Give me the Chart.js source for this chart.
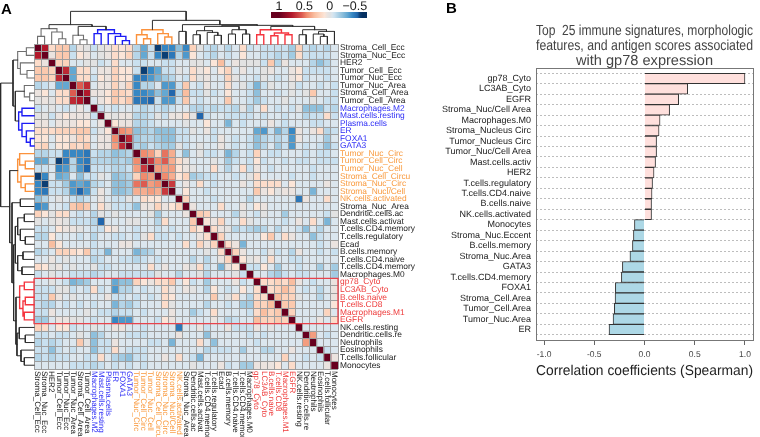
<!DOCTYPE html>
<html>
<head>
<meta charset="utf-8">
<script src="https://cdn.jsdelivr.net/npm/chart.js@4"></script>
<style>
  html, body { margin: 0; padding: 0; background: #fff; }
  #page { position: relative; width: 760px; height: 437px; overflow: hidden; font-family: "Liberation Sans", Arial, sans-serif; }
  canvas { position: absolute; }
  .panel { position: absolute; font-weight: bold; font-size: 15px; line-height: 15px; color: #000; }
</style>
</head>
<body>
<div id="page">
  <canvas id="heat" width="420" height="437" style="left:0;top:0"></canvas>
  <canvas id="trees" width="420" height="437" style="left:0;top:0"></canvas>
  <canvas id="colorbar" width="120" height="22" style="left:260px;top:0"></canvas>
  <canvas id="bars" width="340" height="437" style="left:420px;top:0"></canvas>
  <div class="panel" style="left:1px;top:1px">A</div>
  <div class="panel" style="left:446px;top:0">B</div>
</div>
<script>
const featureNames = ['Stroma_Cell_Ecc','Stroma_Nuc_Ecc','HER2','Tumor_Cell_Ecc','Tumor_Nuc_Ecc','Tumor_Nuc_Area','Stroma_Cell_Area','Tumor_Cell_Area',
  'Macrophages.M2','Mast.cells.resting','Plasma.cells','ER','FOXA1','GATA3',
  'Tumor_Nuc_Circ','Tumor_Cell_Circ','Tumor_Nuc_Cell','Stroma_Cell_Circu','Stroma_Nuc_Circ','Stroma_Nucl/Cell','NK.cells.activated',
  'Stroma_Nuc_Area','Dendritic.cells.ac','Mast.cells.activat','T.cells.CD4.memory','T.cells.regulatory','Ecad','B.cells.memory','T.cells.CD4.naive','T.cells.CD4.memory','Macrophages.M0',
  'gp78_Cyto','LC3AB_Cyto','B.cells.naive','T.cells.CD8','Macrophages.M1','EGFR',
  'NK.cells.resting','Dendritic.cells.re','Neutrophils','Eosinophils','T.cells.follicular','Monocytes'];

// correlation x 100, upper triangle only, row i starts at column i
const corrUpper = [
  [100,75,15,25,25,-15,5,0,-10,0,5,15,10,15, -15,-35,-10,-60,-45,-45,-25,-45, 20,0,-10,-15,-5,-15,-5,15,-10,-5,-10,-10,-10,-10,-20,20,-10,-15,-10,-15,-5],
  [100,5,25,25,-10,10,5,-5,0,5,15,10,20, -15,-35,-10,-45,-60,-50,-15,-40, 10,-5,-10,-15,-5,-10,-5,10,-5,-5,-10,-10,-15,-10,-20,15,-10,-10,-10,-10,-5],
  [100,20,20,-5,-5,0,0,-10,-5,15,-5,-5, -10,-10,-5,-5,-10,-10,-5,-5, 0,0,-5,10,30,-5,5,0,0,0,-10,25,-15,5,-5,-5,-5,-15,-25,-15,-5],
  [100,70,-35,15,15,-5,5,5,20,10,10, -10,-60,-45,-35,-10,-10,0,-5, 15,5,10,-5,10,20,-5,5,-5,-5,0,5,-5,-5,5,10,-10,-10,-10,-10,-5],
  [100,-35,15,15,-10,10,5,20,10,10, -45,-50,-40,-30,-20,-15,-5,-10, 15,0,5,-5,-5,20,0,-5,-5,-10,0,-5,-10,-5,5,10,-10,-5,-5,-10,-5],
  [100,55,70,-5,5,5,20,5,20, -45,-15,-15,-5,-40,-40,-10,25, -5,-10,5,-5,-5,15,-5,0,-10,-30,-10,0,-5,-5,0,-10,-5,-5,-10,-5,-10],
  [100,75,5,5,10,25,20,15, -45,-45,-40,-25,-35,-55,-15,30, -10,-10,0,-10,-5,10,-5,-5,-10,-25,-5,-5,-10,-5,0,-5,0,25,-5,-5,-10],
  [100,-5,5,10,25,15,25, -50,-50,-55,-10,-40,-40,-10,25, -5,-10,-5,-5,-5,25,-5,-5,-10,-20,-10,-5,-5,0,-5,-5,-5,0,-5,-10,-10],
  [100,-10,-5,-10,-5,-5, -10,-15,-10,-10,-15,-10,-5,-5, -15,-15,-10,-15,-10,-10,-15,0,-15,-5,15,-5,-10,-5,-10,0,-25,-25,-25,-10,-15],
  [100,5,0,5,5, -15,-15,-10,0,-10,5,5,15, 0,-55,-10,-5,-5,-10,-10,-10,-10,-5,-10,-5,-5,-10,-5,-5,-15,-10,-10,15,-10],
  [100,10,5,5, -15,-15,-10,-5,-5,-5,-5,0, -5,-5,10,-5,-5,-30,-5,-10,-5,-5,-5,5,-5,-10,-5,-5,-5,-10,-10,-5,-5],
  [100,45,40, -25,-20,-15,-25,-25,-25,-10,-10, 0,-5,5,-10,-5,-5,-5,-5,-5,-35,-40,-10,-30,-15,-45,5,-5,5,15,-15,-10],
  [100,70, -20,-15,-15,-20,-25,-25,-10,-10, -5,-5,-5,-10,5,-5,-10,-5,-10,-25,-15,-10,-15,-10,-40,5,-5,-5,-5,-20,-5],
  [100, -15,-20,-10,-15,-20,-20,0,-10, -5,0,-5,-5,5,-5,-10,-5,-10,-25,-15,-5,-20,-10,-40,-5,-10,-5,-10,-25,-10],
  [100,45,40,20,50,35,-5,-25, -5,0,-10,-10,-5,-30,-15,-5,-10,20,-5,-10,-10,-5,-5,-5,-10,-5,-10,-10,-5],
  [100,65,45,55,35,15,5, -5,-5,-5,0,-5,-20,-10,-5,-10,10,-10,-5,-5,-10,-5,-10,-10,-5,-10,-10,-10],
  [100,40,40,40,10,5, 0,-5,-5,15,-5,-15,-5,15,-10,5,-5,-10,-5,-5,-5,-5,-5,-10,-5,-5,-5],
  [100,45,35,10,20, -20,-15,-10,-10,-5,-5,-10,-5,0,15,-5,-5,-5,-5,-10,-5,-5,-10,-5,-5,-5],
  [100,65,-5,5, -5,15,-5,-10,-5,-5,-5,5,-5,15,15,15,15,-5,10,-5,-5,-5,-5,5,-5],
  [100,-5,10, -5,-5,-10,-5,-5,-5,-5,-5,-5,25,5,10,0,5,5,-5,-5,-30,-5,-5,-5],
  [100,20, -5,-5,-5,-10,-5,-5,-5,-5,-15,-5,-5,-5,-5,-5,-5,-50,5,-5,-5,15,-5],
  [100, 5,-5,-5,-5,15,-5,-5,5,-5,10,5,-5,-5,-5,-5,-5,-5,-5,-5,-5,-5],
  [100,25,20,-5,-5,-5,-15,0,-5,-10,0,-5,-5,-20,-5,-5,-5,-5,-5,-10,0],
  [100,10,5,20,-5,-5,15,0,-5,-5,-5,-5,-10,-5,5,-5,15,-5,-30,-5],
  [100,15,5,0,-15,-10,-15,-20,-15,-5,-15,-5,-5,-10,-25,-5,-15,-5,-5],
  [100,20,-5,-5,-5,-5,-5,10,25,-5,15,5,-5,-5,-25,-10,-5,-5],
  [100,15,5,-30,-5,-5,-5,-5,-5,-5,-5,-5,-5,-5,-10,-5,5],
  [100,20,5,-5,-5,-10,0,-10,-5,-15,5,-5,-5,-10,-5,-10],
  [100,10,0,5,-5,15,-5,-5,-10,-10,-5,-5,-5,-5,-5],
  [100,-10,-10,10,-5,-20,-5,-5,-10,-5,-5,-20,-5,-20],
  [100,-5,-5,-15,-20,-10,-5,-10,-10,-5,-5,-5,-20],
  [100,15,15,20,15,30,5,-5,-10,-5,-5,5],
  [100,15,20,30,20,-5,-10,-5,-15,-5,5],
  [100,30,20,20,0,-5,-5,-15,-5,5],
  [100,25,25,-5,-5,-5,-5,-5,10],
  [100,20,-5,-5,-5,-5,20,-5],
  [100,-5,-5,-5,5,-5,15],
  [100,-5,-5,-5,-5,-5],
  [100,40,-5,-10,-5],
  [100,-5,-5,-5],
  [100,-10,-5],
  [100,5],
  [100]
];

// dendrograms: [height in cells, left, right], a plain number is a leaf index
const topTree = [4.32,
  [2.56,
    [2.03, [1.01,0,1], [1.59,2,[.70,3,4]]],
    [2.33, [1.15,5,[.57,6,7]], [1.89,[1.37,8,9],[1.37,10,[1.01,11,[.44,12,13]]]]]],
  [3.13,
    [1.89,[1.23,14,[.70,15,16]],[1.37,17,[.93,18,19]]],
    [2.56,
      [1.67,20,21],
      [2.47,
        [2.33,[1.76,[1.23,22,23],[1.54,24,[1.15,25,26]]],[1.89,[1.32,27,28],[1.32,29,30]]],
        [2.33,[1.89,[1.23,31,32],[1.45,[1.10,33,34],[1.23,35,36]]],[1.89,[1.23,37,38],[1.67,[1.32,39,[1.01,40,41]],42]]]]]]];
const leftTree = [4.72,
  [2.97,
    [2.31,[1.08,0,1],[1.93,2,[.99,3,4]]],
    [2.64,[1.37,5,[.61,6,7]],[2.17,[1.70,8,9],[1.70,10,[1.08,11,[.52,12,13]]]]]],
  [3.44,
    [2.31,[2.03,14,[1.23,15,16]],[1.84,17,[1.23,18,19]]],
    [3.11,
      [1.93,20,21],
      [2.88,
        [2.64,[2.31,[1.37,22,23],[1.93,24,[1.23,25,26]]],[2.31,[1.56,27,28],[1.70,29,30]]],
        [2.55,[2.03,[1.37,31,32],[1.56,[1.23,33,34],[1.37,35,36]]],[2.41,[2.08,37,[1.23,38,39]],[1.84,40,[1.37,41,42]]]]]]]];

const signatureNames = ['gp78_Cyto','LC3AB_Cyto','EGFR','Stroma_Nuc/Cell Area','Macrophages.M0','Stroma_Nucleus Circ','Tumor_Nucleus Circ','Tumor_Nuc/Cell Area','Mast.cells.activ','HER2','T.cells.regulatory','T.cells.CD4.naive','B.cells.naive','NK.cells.activated',
  'Monocytes','Stroma_Nuc.Eccent','B.cells.memory','Stroma_Nuc.Area','GATA3','T.cells.CD4.memory','FOXA1','Stroma_Cell.Area','Tumor_Cell.Area','Tumor_Nuc.Area','ER'];
const signatureValues = [1.0,.43,.34,.25,.155,.145,.12,.12,.11,.095,.08,.075,.07,.07,
  -.10,-.11,-.12,-.145,-.22,-.23,-.29,-.293,-.30,-.313,-.353];
const spearmanTicks = [-1,-.5,0,.5,1];
const legendTicks = [1,.5,0,-.5];

const FONT = '"Liberation Sans", Arial, sans-serif';
Chart.defaults.font.family = FONT;
Chart.defaults.animation = false;
Chart.defaults.responsive = false;

// linear glyph widths, small canvas text gets squeezed by hinting otherwise
Chart.register({
  id: 'linearText',
  beforeDraw(chart) { chart.ctx.textRendering = 'geometricPrecision'; }
});

const colorStops = [[-65,[5,48,97]],[-60,[12,62,115]],[-55,[33,102,172]],[-45,[55,135,195]],[-35,[100,168,210]],[-25,[143,192,220]],[-15,[181,213,232]],[-10,[201,224,239]],[-5,[219,230,238]],
  [0,[226,226,226]],[5,[235,227,223]],[10,[251,229,216]],[20,[252,211,188]],[30,[249,190,160]],[45,[240,140,110]],[55,[220,90,80]],[75,[178,24,43]],[100,[103,0,31]]];

function corrColor(v) {
  for (let i = 1; i < colorStops.length; i++) {
    if (v <= colorStops[i][0]) {
      const [v0, c0] = colorStops[i - 1];
      const [v1, c1] = colorStops[i];
      const t = Math.max(0, (v - v0) / (v1 - v0));
      return 'rgb(' + c0.map((c, k) => Math.round(c + (c1[k] - c) * t)).join(',') + ')';
    }
  }
  return 'rgb(103,0,31)';
}

function corrAt(i, j) {
  return i <= j ? corrUpper[i][j - i] : corrUpper[j][i - j];
}

function labelColor(i) {
  if (i >= 8 && i <= 13) return '#2f2ff5';
  if (i >= 14 && i <= 20) return '#f99a3e';
  if (i >= 31 && i <= 36) return '#ee3b3b';
  return '#1a1a1a';
}

// heatmap: one stacked bar per row, one dataset per column
const columnLabels = {
  id: 'columnLabels',
  afterDraw(chart) {
    const ctx = chart.ctx, sx = chart.scales.x, bottom = chart.chartArea.bottom;
    ctx.save();
    ctx.font = '8px ' + FONT;
    ctx.textAlign = 'left';
    ctx.textBaseline = 'middle';
    featureNames.forEach((name, j) => {
      ctx.save();
      ctx.translate(sx.getPixelForValue(j + .5), bottom + 2);
      ctx.rotate(Math.PI / 2);
      ctx.fillStyle = labelColor(j);
      ctx.fillText(name, 0, 0);
      ctx.restore();
    });
    ctx.restore();
  }
};

new Chart(document.getElementById('heat'), {
  type: 'bar',
  data: {
    labels: featureNames,
    datasets: featureNames.map((_, j) => ({
      data: featureNames.map(() => 1),
      backgroundColor: featureNames.map((_, i) => corrColor(corrAt(i, j))),
      borderWidth: 0,
      categoryPercentage: 1,
      barPercentage: 1
    }))
  },
  options: {
    indexAxis: 'y',
    layout: { padding: { left: 34, top: 44, bottom: 68 } },
    plugins: { legend: { display: false }, tooltip: { enabled: false } },
    scales: {
      x: {
        stacked: true, min: 0, max: 43,
        ticks: { display: false, stepSize: 1 },
        grid: { color: '#9e9e9e', z: 1, drawTicks: false },
        border: { display: false }
      },
      y: {
        stacked: true, position: 'right',
        afterFit(s) { s.width = 82; },
        ticks: { autoSkip: false, padding: 2, font: { size: 8.4 }, color: c => labelColor(c.index) },
        grid: { color: '#9e9e9e', z: 1, offset: true, drawTicks: false },
        border: { display: false }
      }
    }
  },
  plugins: [columnLabels]
});

// dendrograms and red box, on top of the heatmap
function treeColor(lo, hi) {
  if (lo >= 8 && hi <= 13) return 'blue';
  if (lo >= 14 && hi <= 19) return 'orange';
  if (lo >= 31 && hi <= 36) return 'red';
  if (hi <= 7) return 'gray';
  return 'dark';
}

function treeSegments(node, toPoint, out) {
  if (typeof node === 'number') return { c: node + .5, h: 0, lo: node, hi: node };
  const a = treeSegments(node[1], toPoint, out);
  const b = treeSegments(node[2], toPoint, out);
  const h = node[0], lo = a.lo, hi = b.hi;
  out[treeColor(lo, hi)].push(toPoint(a.c, a.h), toPoint(a.c, h), toPoint(b.c, h), toPoint(b.c, b.h), { x: null, y: null });
  return { c: (a.c + b.c) / 2, h, lo, hi };
}

const treeLines = { dark: [], gray: [], blue: [], orange: [], red: [] };
treeSegments(topTree, (c, h) => ({ x: c, y: -h }), treeLines);
treeSegments(leftTree, (c, h) => ({ x: -h, y: c }), treeLines);
const treeStyle = { dark: ['#2b2b2b', 1], gray: ['#6e6e6e', 1.1], blue: ['#1c1cf5', 1.4], orange: ['#fb923c', 1.4], red: ['#f5353f', 1.4] };

const redBox = [{ x: 0, y: 31 }, { x: 43, y: 31 }, { x: 43, y: 37 }, { x: 0, y: 37 }, { x: 0, y: 31 }];

new Chart(document.getElementById('trees'), {
  type: 'scatter',
  data: {
    datasets: Object.keys(treeLines).map(k => ({
      data: treeLines[k], showLine: true, pointRadius: 0, clip: false, spanGaps: false,
      borderColor: treeStyle[k][0], borderWidth: treeStyle[k][1], borderCapStyle: 'square'
    })).concat([{
      data: redBox, showLine: true, pointRadius: 0, clip: false, borderColor: '#e8434c', borderWidth: 1.3
    }])
  },
  options: {
    layout: { padding: { left: 34, top: 44, right: 82, bottom: 68 } },
    plugins: { legend: { display: false }, tooltip: { enabled: false } },
    scales: {
      x: { display: false, min: 0, max: 43 },
      y: { display: false, min: 0, max: 43, reverse: true }
    }
  }
});

// colour key
const keyLabels = {
  id: 'keyLabels',
  afterDraw(chart) {
    const ctx = chart.ctx, sx = chart.scales.x;
    ctx.save();
    ctx.font = '12.5px ' + FONT;
    ctx.fillStyle = '#222';
    ctx.textAlign = 'center';
    ctx.textBaseline = 'alphabetic';
    legendTicks.forEach(v => {
      ctx.fillText(v < 0 ? '\u2212' + Math.abs(v) : String(v), sx.getPixelForValue(v), 9.5);
    });
    ctx.restore();
  }
};

new Chart(document.getElementById('colorbar'), {
  type: 'bar',
  data: {
    labels: ['key'],
    datasets: [{
      data: [[-.74, 1.16]],
      categoryPercentage: 1,
      barPercentage: 1,
      borderWidth: 0,
      backgroundColor(c) {
        const area = c.chart.chartArea;
        if (!area) return '#ccc';
        const sx = c.chart.scales.x;
        const g = c.chart.ctx.createLinearGradient(area.left, 0, area.right, 0);
        [...colorStops].reverse().forEach(([v, rgb]) => {
          const pos = (sx.getPixelForValue(v / 100) - area.left) / (area.right - area.left);
          g.addColorStop(Math.min(1, Math.max(0, pos)), 'rgb(' + rgb.join(',') + ')');
        });
        return g;
      }
    }]
  },
  options: {
    indexAxis: 'y',
    layout: { padding: { left: 11, right: 13, bottom: 4, top: 12 } },
    plugins: { legend: { display: false }, tooltip: { enabled: false } },
    scales: {
      x: { display: false, reverse: true, min: -.74, max: 1.16 },
      y: { display: false }
    }
  },
  plugins: [keyLabels]
});

// panel B
const plotBox = {
  id: 'plotBox',
  afterDraw(chart) {
    const { left, top, right, bottom } = chart.chartArea, ctx = chart.ctx;
    ctx.save();
    ctx.strokeStyle = '#777';
    ctx.lineWidth = 1;
    ctx.strokeRect(Math.round(left) + .5, Math.round(top) + .5, Math.round(right - left), Math.round(bottom - top));
    ctx.restore();
  }
};

new Chart(document.getElementById('bars'), {
  type: 'bar',
  data: {
    labels: ['', ...signatureNames, ''],
    datasets: [{
      data: [null, ...signatureValues, null],
      backgroundColor: [null, ...signatureValues, null].map(v => (v > 0 ? '#ffe0dd' : '#add8e6')),
      borderColor: '#333',
      borderWidth: 1,
      categoryPercentage: 1,
      barPercentage: 1
    }]
  },
  options: {
    indexAxis: 'y',
    layout: { padding: { right: 7, bottom: 57 } },
    plugins: {
      legend: { display: false },
      tooltip: { enabled: false },
      title: {
        display: true, fullSize: false, color: '#444',
        text: ['Top  25 immune signatures, morphologic', 'features, and antigen scores associated', 'with gp78 expression'],
        font: { size: 14.6, weight: 'normal', lineHeight: 1 },
        padding: { top: 24, bottom: 0.2 }
      }
    },
    scales: {
      x: {
        min: -1.08, max: 1.08,
        afterBuildTicks(s) { s.ticks = spearmanTicks.map(v => ({ value: v })); },
        afterFit(s) { s.height = 40; },
        ticks: { color: '#444', font: { size: 8.5 }, padding: 5, maxRotation: 0, callback: v => v.toFixed(1) },
        grid: { drawOnChartArea: false, color: '#666', tickLength: 5 },
        border: { display: false },
        title: { display: true, text: 'Correlation coefficients (Spearman)', color: '#222', font: { size: 14.2 }, padding: { top: 0, bottom: 0 } }
      },
      y: {
        offset: false,
        afterFit(s) { s.width = 116; },
        ticks: { autoSkip: false, color: '#222', font: { size: 9 }, padding: 5 },
        grid: { color: '#bdbdbd', drawTicks: false },
        border: { display: false, dash: [2, 2] }
      }
    }
  },
  plugins: [plotBox]
});
</script>
</body>
</html>
